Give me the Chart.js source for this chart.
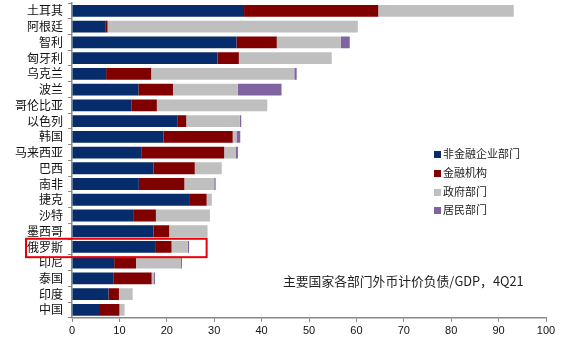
<!DOCTYPE html>
<html>
<head>
<meta charset="utf-8">
<script src="https://cdn.jsdelivr.net/npm/chart.js@4/dist/chart.umd.min.js"></script>
<style>
  html, body { margin: 0; padding: 0; background: #fff; }
  #wrap { position: relative; width: 573px; height: 346px; }
  #legend { position: absolute; left: 434px; top: 144px; font: 11px "Noto Sans CJK SC", sans-serif; color: #222; }
  #legend div { height: 18.8px; line-height: 18.8px; white-space: nowrap; }
  #legend span { display: inline-block; width: 7px; height: 7px; margin-right: 2px; vertical-align: 0px; }
  #title { position: absolute; left: 283px; top: 271px; font: 12.8px "Noto Sans CJK SC", sans-serif; color: #222; white-space: nowrap; }
</style>
</head>
<body>
<div id="wrap">
  <canvas id="chart" width="573" height="346"></canvas>
  <div id="legend"></div>
  <div id="title">主要国家各部门外币计价负债/GDP，4Q21</div>
</div>
<script>
const countries = ['土耳其', '阿根廷', '智利', '匈牙利', '乌克兰', '波兰', '哥伦比亚', '以色列', '韩国', '马来西亚',
                   '巴西', '南非', '捷克', '沙特', '墨西哥', '俄罗斯', '印尼', '泰国', '印度', '中国'];

// 各部门外币计价负债 / GDP (%)
const nonFinancial = [36.3, 7.0, 34.7, 30.7, 7.2, 14.0, 12.6, 22.2, 19.3, 14.6, 17.2, 14.1, 24.7, 12.9, 17.2, 17.7, 8.9, 8.7, 7.7, 5.7];
const financial    = [28.3, 0.5, 8.5, 4.5, 9.5, 7.3, 5.3, 1.9, 14.6, 17.5, 8.7, 9.6, 3.7, 4.8, 3.3, 3.3, 4.6, 8.1, 2.2, 4.3];
const government   = [28.6, 52.8, 13.5, 19.6, 30.2, 13.7, 23.3, 11.3, 0.8, 2.5, 5.7, 6.3, 1.1, 11.4, 8.1, 3.4, 9.5, 0.4, 2.9, 1.1];
const household    = [0, 0, 1.9, 0, 0.5, 9.2, 0, 0.3, 0.8, 0.4, 0, 0.3, 0, 0, 0, 0.3, 0.2, 0.3, 0, 0];

const seriesNames = ['非金融企业部门', '金融机构', '政府部门', '居民部门'];
const seriesColors = ['#062c6b', '#800000', '#bfbfbf', '#8064a2'];
const xTicks = [0, 10, 20, 30, 40, 50, 60, 70, 80, 90, 100];

const highlightCountry = '俄罗斯';
const highlightEnd = 28.4;

const seriesData = [nonFinancial, financial, government, household];

// red frame around the highlighted row
const highlightBox = {
  id: 'highlightBox',
  afterDraw(chart) {
    const { ctx, scales } = chart;
    const i = countries.indexOf(highlightCountry);
    const yc = scales.y.getPixelForValue(i) + 1;
    const half = 9.2;
    const x1 = scales.x.getPixelForValue(highlightEnd);
    ctx.save();
    ctx.strokeStyle = '#e8000b';
    ctx.lineWidth = 2;
    ctx.strokeRect(26, yc - half, x1 - 26, half * 2);
    ctx.restore();
  }
};

const ctx = document.getElementById('chart').getContext('2d');
new Chart(ctx, {
  type: 'bar',
  data: {
    labels: countries,
    datasets: seriesData.map((d, k) => ({
      label: seriesNames[k],
      data: d,
      backgroundColor: seriesColors[k],
      borderWidth: 0,
      barPercentage: 0.75,
      categoryPercentage: 1
    }))
  },
  options: {
    indexAxis: 'y',
    responsive: false,
    animation: false,
    layout: { padding: { left: 0, right: 27, top: 3, bottom: 5 } },
    plugins: { legend: { display: false }, tooltip: { enabled: false } },
    scales: {
      x: {
        stacked: true,
        min: 0,
        max: 100,
        afterBuildTicks: s => { s.ticks = xTicks.map(v => ({ value: v })); },
        afterFit: s => { s.paddingLeft = 0; s.paddingRight = 0; },
        grid: { drawOnChartArea: false, color: '#888', tickLength: 4 },
        border: { color: '#888', width: 1.5 },
        ticks: { color: '#111', font: { family: 'Liberation Sans, Arial', size: 11 }, padding: 3, maxRotation: 0 }
      },
      y: {
        stacked: true,
        afterFit: s => { s.width = 72; s.paddingTop = 0; s.paddingBottom = 0; },
        grid: { drawOnChartArea: false, color: '#888', tickLength: 4, offset: true },
        border: { color: '#888', width: 1.5 },
        ticks: { color: '#111', font: { family: 'Noto Sans CJK SC', size: 12 }, padding: 5, autoSkip: false }
      }
    }
  },
  plugins: [highlightBox]
});

const legend = document.getElementById('legend');
seriesNames.forEach((n, k) => {
  const row = document.createElement('div');
  row.innerHTML = '<span style="background:' + seriesColors[k] + '"></span>' + n;
  legend.appendChild(row);
});
</script>
</body>
</html>
